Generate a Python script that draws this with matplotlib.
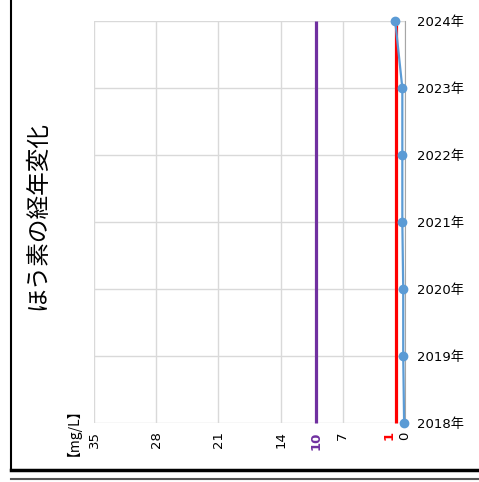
import matplotlib
matplotlib.use('Agg')
import matplotlib.pyplot as plt
import numpy as np

plt.rcParams['font.family'] = ['DejaVu Sans', 'Noto Sans CJK JP']

years = ['2018年', '2019年', '2020年', '2021年', '2022年', '2023年', '2024年']
boron = [0.1, 0.2, 0.2, 0.3, 0.3, 0.3, 1.1]
standard = [10, 10, 10, 10, 10, 10, 10]
guideline = [1, 1, 1, 1, 1, 1, 1]
value_ticks = [0, 7, 14, 21, 28, 35]

fig = plt.figure(figsize=(4.79, 4.82), dpi=100)
ax = fig.add_axes([94 / 479, 1 - 423 / 482, (405 - 94) / 479, (423 - 21) / 482])

ypos = np.arange(len(years))
ax.plot(standard, ypos, color='#7030A0', lw=2.3, solid_capstyle='butt', clip_on=False, zorder=3)
ax.plot(guideline, ypos, color='#FF0000', lw=2.3, solid_capstyle='butt', clip_on=False, zorder=3)
ax.plot(boron, ypos, color='#5B9BD5', lw=1.6, marker='o', ms=6, clip_on=False, zorder=4)

ax.set_xlim(35, 0)
ax.set_ylim(0, len(years) - 1)
ax.set_xticks(value_ticks)
ax.set_xticklabels([str(v) for v in value_ticks], rotation=90, fontsize=9.5)
ax.set_xticks([standard[0]], minor=True)
ax.set_xticklabels([str(standard[0])], minor=True, rotation=90, fontsize=9.5,
                   fontweight='bold', color='#7030A0')

# red "1" label sits a little left of its line, next to the 0
ax.annotate(str(guideline[0]), xy=(guideline[0], 0), xycoords=('data', 'axes fraction'),
            xytext=(-5, -6), textcoords='offset points', ha='center', va='top',
            rotation=90, fontsize=9.5, fontweight='bold', color='#FF0000')

ax.set_yticks(ypos)
ax.set_yticklabels(years, fontsize=9.5)
ax.yaxis.tick_right()
ax.tick_params(axis='both', which='both', length=0)
ax.tick_params(axis='x', which='both', pad=6)
ax.tick_params(axis='y', pad=9)

ax.grid(True, which='major', color='#D9D9D9', lw=1)
ax.set_axisbelow(True)
for s in ['left', 'top', 'bottom']:
    ax.spines[s].set_visible(False)
ax.spines['right'].set_color('#A6A6A6')

fig.text(38 / 479, 1 - 216 / 482, 'ほう素の経年変化', rotation=90, fontsize=17,
         ha='center', va='center', family=['Noto Sans CJK JP', 'DejaVu Sans'])
fig.text(66 / 479, 1 - 425 / 482, '【mg/L】', rotation=90, fontsize=10,
         ha='center', va='center', family=['Noto Sans CJK JP', 'DejaVu Sans'])

# frame lines
fig.add_artist(plt.Line2D([11 / 479, 11 / 479], [1 - 470 / 482, 1], color='black', lw=1.5))
fig.add_artist(plt.Line2D([11 / 479, 1], [1 - 470 / 482, 1 - 470 / 482], color='black', lw=2.5))
fig.add_artist(plt.Line2D([11 / 479, 1], [1 - 479 / 482, 1 - 479 / 482], color='#555555', lw=1.5))

fig.savefig('out.png', dpi=100)
